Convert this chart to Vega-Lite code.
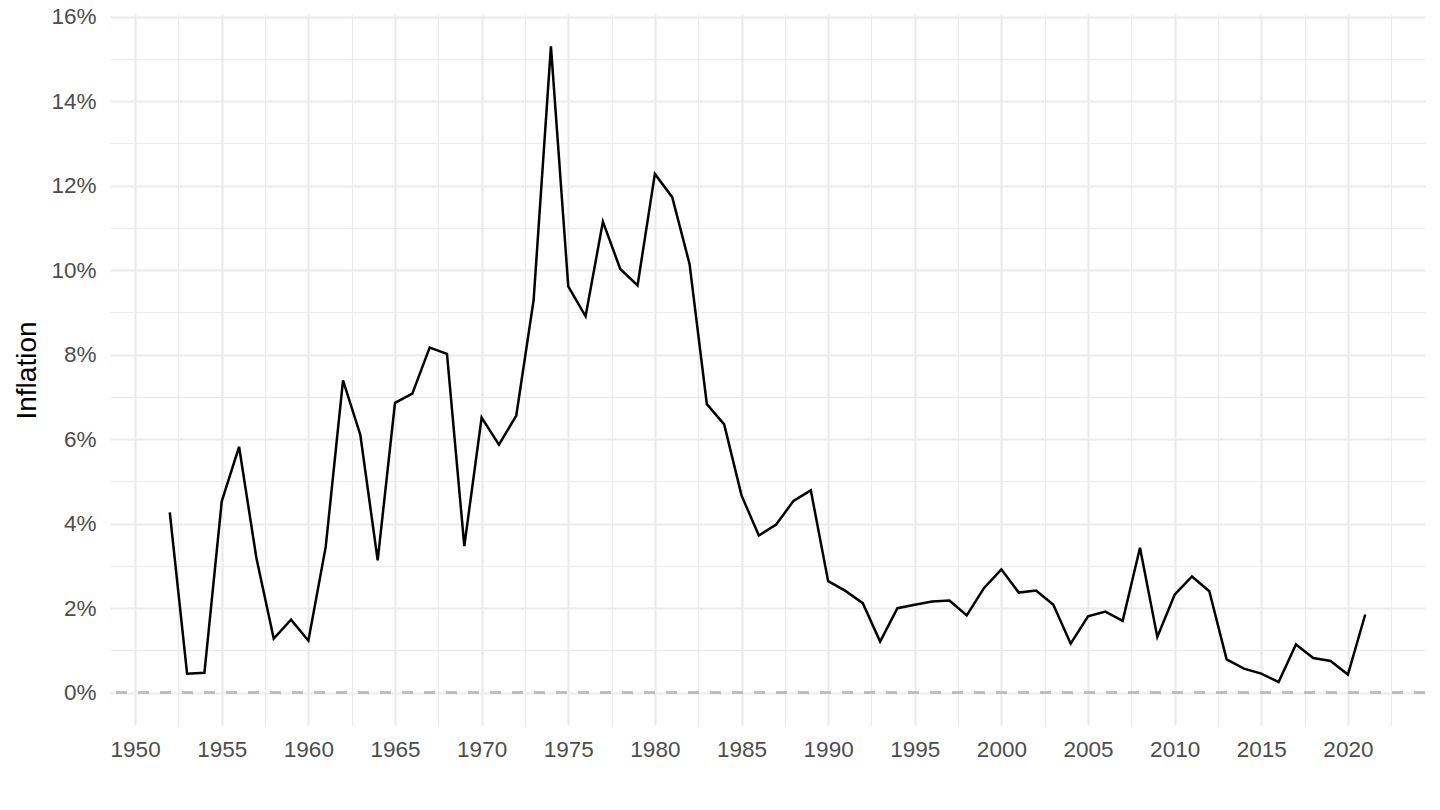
{
  "$schema": "https://vega.github.io/schema/vega-lite/v6.json",
  "autosize": {"type": "none"},
  "width": 1315,
  "height": 711,
  "padding": {"left": 110, "top": 14, "right": 15, "bottom": 85},
  "background": "white",
  "config": {
    "view": {"stroke": null},
    "font": "Liberation Sans",
    "axis": {
      "domain": false,
      "ticks": false,
      "grid": true,
      "labelFont": "Liberation Sans",
      "labelFontSize": 22.5,
      "labelColor": "#4d4d4d",
      "labelOverlap": false,
      "gridColor": "#ebebeb",
      "titleFont": "Liberation Sans",
      "titleFontWeight": "normal",
      "titleColor": "#000000"
    }
  },
  "data": {
    "values": [
      {"year": 1952, "inflation": 4.27},
      {"year": 1953, "inflation": 0.45},
      {"year": 1954, "inflation": 0.47},
      {"year": 1955, "inflation": 4.53},
      {"year": 1956, "inflation": 5.82},
      {"year": 1957, "inflation": 3.19},
      {"year": 1958, "inflation": 1.28},
      {"year": 1959, "inflation": 1.73},
      {"year": 1960, "inflation": 1.23},
      {"year": 1961, "inflation": 3.45},
      {"year": 1962, "inflation": 7.39},
      {"year": 1963, "inflation": 6.10},
      {"year": 1964, "inflation": 3.13},
      {"year": 1965, "inflation": 6.86},
      {"year": 1966, "inflation": 7.08},
      {"year": 1967, "inflation": 8.17},
      {"year": 1968, "inflation": 8.02},
      {"year": 1969, "inflation": 3.47},
      {"year": 1970, "inflation": 6.51},
      {"year": 1971, "inflation": 5.87},
      {"year": 1972, "inflation": 6.56},
      {"year": 1973, "inflation": 9.29},
      {"year": 1974, "inflation": 15.30},
      {"year": 1975, "inflation": 9.62},
      {"year": 1976, "inflation": 8.91},
      {"year": 1977, "inflation": 11.15},
      {"year": 1978, "inflation": 10.03},
      {"year": 1979, "inflation": 9.64},
      {"year": 1980, "inflation": 12.28},
      {"year": 1981, "inflation": 11.73},
      {"year": 1982, "inflation": 10.15},
      {"year": 1983, "inflation": 6.83},
      {"year": 1984, "inflation": 6.35},
      {"year": 1985, "inflation": 4.67},
      {"year": 1986, "inflation": 3.72},
      {"year": 1987, "inflation": 3.98},
      {"year": 1988, "inflation": 4.54},
      {"year": 1989, "inflation": 4.79},
      {"year": 1990, "inflation": 2.64},
      {"year": 1991, "inflation": 2.41},
      {"year": 1992, "inflation": 2.12},
      {"year": 1993, "inflation": 1.21},
      {"year": 1994, "inflation": 2.00},
      {"year": 1995, "inflation": 2.08},
      {"year": 1996, "inflation": 2.16},
      {"year": 1997, "inflation": 2.18},
      {"year": 1998, "inflation": 1.83},
      {"year": 1999, "inflation": 2.48},
      {"year": 2000, "inflation": 2.92},
      {"year": 2001, "inflation": 2.37},
      {"year": 2002, "inflation": 2.42},
      {"year": 2003, "inflation": 2.08},
      {"year": 2004, "inflation": 1.16},
      {"year": 2005, "inflation": 1.81},
      {"year": 2006, "inflation": 1.92},
      {"year": 2007, "inflation": 1.70},
      {"year": 2008, "inflation": 3.43},
      {"year": 2009, "inflation": 1.32},
      {"year": 2010, "inflation": 2.32},
      {"year": 2011, "inflation": 2.75},
      {"year": 2012, "inflation": 2.40},
      {"year": 2013, "inflation": 0.79},
      {"year": 2014, "inflation": 0.57},
      {"year": 2015, "inflation": 0.45},
      {"year": 2016, "inflation": 0.25},
      {"year": 2017, "inflation": 1.14},
      {"year": 2018, "inflation": 0.82},
      {"year": 2019, "inflation": 0.75},
      {"year": 2020, "inflation": 0.43},
      {"year": 2021, "inflation": 1.85}
    ]
  },
  "layer": [
    {
      "mark": {"type": "line", "color": "#000000", "strokeWidth": 2.5, "interpolate": "linear"},
      "encoding": {
        "x": {
          "field": "year",
          "type": "quantitative",
          "title": null,
          "scale": {"domain": [1948.55, 2024.45], "nice": false, "zero": false},
          "axis": {
            "grid": true,
            "values": [1950, 1952.5, 1955, 1957.5, 1960, 1962.5, 1965, 1967.5, 1970, 1972.5, 1975, 1977.5, 1980, 1982.5, 1985, 1987.5, 1990, 1992.5, 1995, 1997.5, 2000, 2002.5, 2005, 2007.5, 2010, 2012.5, 2015, 2017.5, 2020, 2022.5],
            "labelExpr": "datum.value % 5 === 0 ? '' + datum.value : ''",
            "labelPadding": 13,
            "gridWidth": {"condition": {"test": "datum.value % 5 === 0", "value": 2.2}, "value": 1.1}
          }
        },
        "y": {
          "field": "inflation",
          "type": "quantitative",
          "title": "Inflation",
          "scale": {"domain": [-0.765, 16.065], "nice": false, "zero": false},
          "axis": {
            "grid": true,
            "values": [0, 1, 2, 3, 4, 5, 6, 7, 8, 9, 10, 11, 12, 13, 14, 15, 16],
            "labelExpr": "datum.value % 2 === 0 ? datum.value + '%' : ''",
            "labelPadding": 14,
            "gridWidth": {"condition": {"test": "datum.value % 2 === 0", "value": 2.2}, "value": 1.1},
            "titleFontSize": 28,
            "titleAngle": -90,
            "titleAlign": "center",
            "titleBaseline": "alphabetic",
            "titleX": -75,
            "titleY": 356
          }
        }
      }
    },
    {
      "mark": {"type": "rule", "color": "#bebebe", "strokeWidth": 2, "strokeDash": [11, 11]},
      "encoding": {"y": {"datum": 0, "type": "quantitative"}}
    }
  ]
}
